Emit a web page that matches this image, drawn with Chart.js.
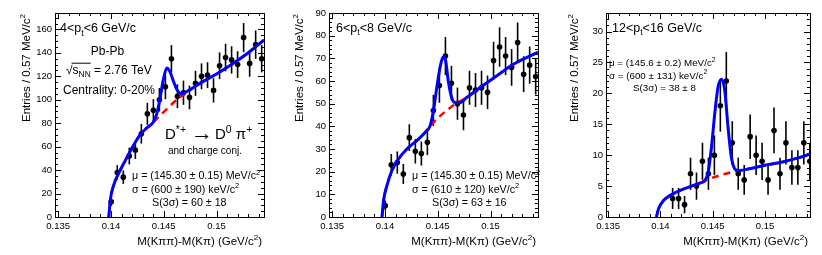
<!DOCTYPE html>
<html>
<head>
<meta charset="utf-8">
<script src="https://cdn.jsdelivr.net/npm/chart.js@4/dist/chart.umd.min.js"></script>
<style>
  html, body { margin: 0; padding: 0; background: #fff; }
  #wrap { position: relative; width: 822px; height: 255px; }
  #wrap canvas { position: absolute; left: 0; top: 0; }
</style>
</head>
<body>
<div id="wrap">
  <canvas id="c1" width="822" height="255"></canvas>
  <canvas id="c2" width="822" height="255"></canvas>
  <canvas id="c3" width="822" height="255"></canvas>
</div>
<script>
// bin centres of M(Kpipi)-M(Kpi), 0.57 MeV wide
const binCenters = [0.14003, 0.14060, 0.14117, 0.14174, 0.14231, 0.14288, 0.14345, 0.14402, 0.14459, 0.14516,
                    0.14573, 0.14630, 0.14687, 0.14744, 0.14801, 0.14858, 0.14915, 0.14972, 0.15029, 0.15086,
                    0.15143, 0.15200, 0.15257, 0.15314, 0.15371, 0.15428];

// 4 < pt < 6
const pt4Counts = [13, 38, 34, 52, 57, 71, 88, 91, 100, 111, 135, 103, 106, 102, 114, 120, 121, 108, 129, 136, 134, 130, 153, 131, 147, 135];
const pt4Errors = [3.6, 6.2, 5.8, 7.2, 7.5, 8.4, 9.4, 9.5, 10, 10.5, 11.6, 10.1, 10.3, 10.1, 10.7, 11, 11, 10.4, 11.4, 11.7, 11.6, 11.4, 12.4, 11.4, 12.1, 11.6];
const pt4FitX = [0.13980, 0.13993, 0.14025, 0.14072, 0.14135, 0.14213, 0.14276, 0.14340, 0.14402, 0.14434, 0.14465, 0.14496, 0.14529, 0.14559, 0.14591, 0.14623, 0.14670, 0.14717, 0.14842, 0.15000, 0.15157, 0.15314, 0.15450];
const pt4FitY = [0, 14, 27, 37, 48, 61, 70, 76, 81, 88, 101, 117, 127, 124, 116, 109, 105, 107, 114, 122, 131, 141, 151];
const pt4BkgX = [0.13980, 0.13993, 0.14025, 0.14072, 0.14135, 0.14213, 0.14276, 0.14340, 0.14402, 0.14650, 0.14717, 0.14842, 0.15000, 0.15157, 0.15314, 0.15450];
const pt4BkgY = [0, 14, 27, 37, 48, 61, 70, 76, 81, 102, 106, 114, 122, 131, 141, 151];

// 6 < pt < 8
const pt6Counts = [5, 23, 24, 19, 35, 29, 28, 33, 47, 58, 71, 59, 50, 45, 57, 56, 57, 55, 69, 75, 71, 66, 77, 63, 67, 62];
const pt6Errors = [2.2, 4.8, 4.9, 4.4, 5.9, 5.4, 5.3, 5.7, 6.9, 7.6, 8.4, 7.7, 7.1, 6.7, 7.5, 7.5, 7.5, 7.4, 8.3, 8.7, 8.4, 8.1, 8.8, 7.9, 8.2, 7.9];
const pt6FitX = [0.13972, 0.13987, 0.14019, 0.14066, 0.14128, 0.14208, 0.14302, 0.14380, 0.14427, 0.14459, 0.14491, 0.14522, 0.14553, 0.14575, 0.14600, 0.14632, 0.14663, 0.14710, 0.14774, 0.14899, 0.15057, 0.15213, 0.15450];
const pt6FitY = [0, 7.3, 13.9, 20.5, 25.6, 30, 33.7, 37.3, 40.2, 46.8, 57, 66, 70.5, 69, 60, 52.7, 50.5, 50.5, 52.7, 57, 62.2, 67.3, 72.7];
const pt6BkgX = [0.13972, 0.13987, 0.14019, 0.14066, 0.14128, 0.14208, 0.14302, 0.14380, 0.14427, 0.14680, 0.14774, 0.14899, 0.15057, 0.15213, 0.15450];
const pt6BkgY = [0, 7.3, 13.9, 20.5, 25.6, 30, 33.7, 37.3, 40.2, 50.3, 52.7, 57, 62.2, 67.3, 72.7];

// 12 < pt < 16 (first two bins empty)
const pt12Counts = [null, null, 3, 3, 2, 7, 5, 9, 7, 10, 18, 22, 12, 7, 6, 13, 10, 9, 6, 14, 7, 12, 8, 8, 12, 9];
const pt12Errors = [null, null, 1.7, 1.7, 1.4, 2.6, 2.2, 3, 2.6, 3.2, 4.2, 4.7, 3.5, 2.6, 2.4, 3.6, 3.2, 3, 2.4, 3.7, 2.6, 3.5, 2.8, 2.8, 3.5, 3];
const pt12FitX = [0.13962, 0.13984, 0.14032, 0.14095, 0.14189, 0.14284, 0.14378, 0.14426, 0.14457, 0.14489, 0.14520, 0.14552, 0.14584, 0.14615, 0.14646, 0.14678, 0.14710, 0.14741, 0.14851, 0.15009, 0.15167, 0.15325, 0.15430];
const pt12FitY = [0, 1.4, 2.7, 3.5, 4.3, 4.9, 5.5, 5.9, 7.3, 11.4, 16.8, 21.1, 22.3, 20.5, 14.6, 9.7, 7.8, 7.5, 7.8, 8.4, 8.9, 9.6, 10.2];
const pt12BkgX = [0.13962, 0.13984, 0.14032, 0.14095, 0.14189, 0.14284, 0.14378, 0.14426, 0.14741, 0.14851, 0.15009, 0.15167, 0.15325, 0.15430];
const pt12BkgY = [0, 1.4, 2.7, 3.5, 4.3, 4.9, 5.5, 5.9, 7.5, 7.8, 8.4, 8.9, 9.6, 10.2];

// tick labels
const xTicks = [0.135, 0.14, 0.145, 0.15];
const pt4YTicks = [0, 20, 40, 60, 80, 100, 120, 140, 160];
const pt6YTicks = [0, 10, 20, 30, 40, 50, 60, 70, 80, 90];
const pt12YTicks = [0, 5, 10, 15, 20, 25, 30];

const FONT = '"Liberation Sans", Arial, Helvetica, sans-serif';
Chart.defaults.font.family = FONT;
Chart.defaults.color = '#000';

// tiny ROOT-like text: ^{sup} and _{sub}
function parseRich(s) {
  const segs = [];
  const re = /([\^_])\{([^}]*)\}/g;
  let last = 0, m;
  while ((m = re.exec(s))) {
    if (m.index > last) segs.push({ t: s.slice(last, m.index), k: '' });
    segs.push({ t: m[2], k: m[1] });
    last = re.lastIndex;
  }
  if (last < s.length) segs.push({ t: s.slice(last), k: '' });
  return segs;
}

function drawRich(ctx, s, x, y, size, align) {
  const segs = parseRich(s);
  let w = 0;
  segs.forEach(g => {
    ctx.font = (g.k ? size * 0.7 : size) + 'px ' + FONT;
    g.w = ctx.measureText(g.t).width;
    w += g.w;
  });
  let cx = align === 'right' ? x - w : align === 'center' ? x - w / 2 : x;
  ctx.textAlign = 'left';
  ctx.textBaseline = 'alphabetic';
  segs.forEach(g => {
    ctx.font = (g.k ? size * 0.7 : size) + 'px ' + FONT;
    const dy = g.k === '^' ? -size * 0.42 : g.k === '_' ? size * 0.28 : 0;
    ctx.fillText(g.t, cx, y + dy);
    g.x = cx;
    cx += g.w;
  });
  return segs;
}

function toPoints(xs, ys) {
  const pts = [];
  xs.forEach((x, i) => { if (ys[i] !== null) pts.push({ x: x, y: ys[i] }); });
  return pts;
}

// frame, inward ticks, error bars and texts, ROOT style
function rootDeco(panel) {
  return {
    id: 'rootDeco' + panel.id,
    beforeDatasetsDraw(chart) {
      const ctx = chart.ctx, xs = chart.scales.x, ys = chart.scales.y;
      ctx.save();
      ctx.strokeStyle = '#000';
      ctx.lineWidth = 1.6;
      panel.counts.forEach((c, i) => {
        if (c === null) return;
        const px = xs.getPixelForValue(binCenters[i]);
        const y1 = Math.max(ys.getPixelForValue(c + panel.errors[i]), chart.chartArea.top);
        const y2 = Math.min(ys.getPixelForValue(c - panel.errors[i]), chart.chartArea.bottom);
        ctx.beginPath();
        ctx.moveTo(px, y1);
        ctx.lineTo(px, y2);
        ctx.stroke();
      });
      ctx.restore();
    },
    afterDraw(chart) {
      const ctx = chart.ctx, xs = chart.scales.x, ys = chart.scales.y;
      const a = chart.chartArea;
      ctx.save();
      ctx.strokeStyle = '#000';
      ctx.lineWidth = 1;
      ctx.strokeRect(Math.round(a.left) + 0.5, Math.round(a.top) + 0.5, Math.round(a.right - a.left), Math.round(a.bottom - a.top));

      ctx.beginPath();
      // x ticks, bottom and top
      for (let i = Math.ceil(xs.min / 0.001 - 1e-6); i * 0.001 <= xs.max + 1e-9; i++) {
        const v = i * 0.001;
        const major = xTicks.some(t => Math.abs(t - v) < 1e-7);
        const len = major ? 6 : 3;
        const px = Math.round(xs.getPixelForValue(v)) + 0.5;
        ctx.moveTo(px, a.bottom); ctx.lineTo(px, a.bottom - len);
        ctx.moveTo(px, a.top); ctx.lineTo(px, a.top + len);
      }
      // y ticks, left and right
      for (let i = 0; i * panel.minorY <= ys.max + 1e-9; i++) {
        const v = i * panel.minorY;
        const major = panel.yTicks.some(t => Math.abs(t - v) < 1e-7);
        const len = major ? 6 : 3;
        const py = Math.round(ys.getPixelForValue(v)) + 0.5;
        ctx.moveTo(a.left, py); ctx.lineTo(a.left + len, py);
        ctx.moveTo(a.right, py); ctx.lineTo(a.right - len, py);
      }
      ctx.stroke();

      ctx.fillStyle = '#000';
      // axis titles
      drawRich(ctx, 'M(K\u03C0\u03C0)-M(K\u03C0) (GeV/c^{2})', a.right - 2, 245, 11.5, 'right');
      ctx.save();
      ctx.translate(panel.yTitleX, 14);
      ctx.rotate(-Math.PI / 2);
      drawRich(ctx, 'Entries / 0.57 MeV/c^{2}', 0, 0, 11.5, 'right');
      ctx.restore();

      panel.texts.forEach(t => {
        const segs = drawRich(ctx, t.s, t.x, t.y, t.size, t.align || 'left');
        if (t.sqrt) {
          // overline of the square root
          ctx.font = t.size + 'px ' + FONT;
          const x0 = segs[0].x + ctx.measureText('\u221A').width - 1;
          const x1 = segs[1].x + segs[1].w;
          ctx.lineWidth = 1;
          ctx.beginPath();
          ctx.moveTo(x0, t.y - t.size * 0.9);
          ctx.lineTo(x1, t.y - t.size * 0.9);
          ctx.stroke();
        }
      });
      ctx.restore();
    }
  };
}

function makePanel(panel) {
  const tickFont = { size: 9.5, family: FONT };
  return new Chart(document.getElementById(panel.canvas), {
    type: 'scatter',
    data: {
      datasets: [
        {
          data: toPoints(binCenters, panel.counts),
          pointRadius: 2.8, pointBackgroundColor: '#000', pointBorderWidth: 0,
          showLine: false, order: 3
        },
        {
          data: toPoints(panel.bkgX, panel.bkgY),
          showLine: true, borderColor: '#ff0000', borderWidth: 2.5, borderDash: [7, 5],
          pointRadius: 0, cubicInterpolationMode: 'monotone', order: 2
        },
        {
          data: toPoints(panel.fitX, panel.fitY),
          showLine: true, borderColor: '#0000ff', borderWidth: 3,
          pointRadius: 0, cubicInterpolationMode: 'monotone', order: 1
        }
      ]
    },
    options: {
      responsive: false,
      animation: false,
      events: [],
      layout: { padding: { left: panel.left - 40, right: 822 - panel.right, top: 13, bottom: 0 } },
      plugins: { legend: { display: false }, tooltip: { enabled: false } },
      scales: {
        x: {
          type: 'linear', min: panel.xMin, max: panel.xMax,
          afterFit: s => { s.height = 38; },
          afterBuildTicks: s => { s.ticks = xTicks.map(v => ({ value: v })); },
          grid: { display: false, drawTicks: false },
          border: { display: false },
          ticks: { font: tickFont, color: '#000', padding: 4, maxRotation: 0, autoSkip: false, callback: v => String(v) }
        },
        y: {
          type: 'linear', min: 0, max: panel.yMax,
          afterFit: s => { s.width = 40; },
          afterBuildTicks: s => { s.ticks = panel.yTicks.map(v => ({ value: v })); },
          grid: { display: false, drawTicks: false },
          border: { display: false },
          ticks: { font: tickFont, color: '#000', padding: 3, autoSkip: false, callback: v => String(v) }
        }
      }
    },
    plugins: [rootDeco(panel)]
  });
}

makePanel({
  id: 1, canvas: 'c1', left: 55, right: 264, xMin: 0.1347, xMax: 0.1545,
  yMax: 174, yTicks: pt4YTicks, minorY: 5, yTitleX: 30,
  counts: pt4Counts, errors: pt4Errors,
  fitX: pt4FitX, fitY: pt4FitY, bkgX: pt4BkgX, bkgY: pt4BkgY,
  texts: [
    { s: '4<p_{t}<6 GeV/c', x: 60, y: 32, size: 12.5 },
    { s: 'Pb-Pb', x: 107.5, y: 55, size: 12, align: 'center' },
    { s: '\u221As_{NN} = 2.76 TeV', x: 66, y: 74, size: 12, sqrt: true },
    { s: 'Centrality: 0-20%', x: 63, y: 93.5, size: 12 },
    { s: 'D^{*+}', x: 165, y: 139, size: 15 },
    { s: '\u2192', x: 191, y: 140, size: 22 },
    { s: 'D^{0} \u03C0^{+}', x: 215, y: 139, size: 15 },
    { s: 'and charge conj.', x: 168, y: 154, size: 10 },
    { s: '\u03BC = (145.30 \u00B1 0.15) MeV/c^{2}', x: 132, y: 179, size: 10.7 },
    { s: '\u03C3 = (600 \u00B1 190) keV/c^{2}', x: 132, y: 192.5, size: 10.7 },
    { s: 'S(3\u03C3) = 60 \u00B1 18', x: 152, y: 205.5, size: 10.7 }
  ]
});

makePanel({
  id: 2, canvas: 'c2', left: 329, right: 538, xMin: 0.1347, xMax: 0.1545,
  yMax: 90, yTicks: pt6YTicks, minorY: 2, yTitleX: 303,
  counts: pt6Counts, errors: pt6Errors,
  fitX: pt6FitX, fitY: pt6FitY, bkgX: pt6BkgX, bkgY: pt6BkgY,
  texts: [
    { s: '6<p_{t}<8 GeV/c', x: 336, y: 31.5, size: 12.5 },
    { s: '\u03BC = (145.30 \u00B1 0.15) MeV/c^{2}', x: 412, y: 179, size: 10.7 },
    { s: '\u03C3 = (610 \u00B1 120) keV/c^{2}', x: 412, y: 192.5, size: 10.7 },
    { s: 'S(3\u03C3) = 63 \u00B1 16', x: 432, y: 205.5, size: 10.7 }
  ]
});

makePanel({
  id: 3, canvas: 'c3', left: 606, right: 810, xMin: 0.1348, xMax: 0.1543,
  yMax: 33, yTicks: pt12YTicks, minorY: 1, yTitleX: 578,
  counts: pt12Counts, errors: pt12Errors,
  fitX: pt12FitX, fitY: pt12FitY, bkgX: pt12BkgX, bkgY: pt12BkgY,
  texts: [
    { s: '12<p_{t}<16 GeV/c', x: 612, y: 31.5, size: 12.5 },
    { s: '\u03BC = (145.6 \u00B1 0.2) MeV/c^{2}', x: 609, y: 66, size: 9.8 },
    { s: '\u03C3 = (600 \u00B1 131) keV/c^{2}', x: 609, y: 78.5, size: 9.8 },
    { s: 'S(3\u03C3) = 38 \u00B1 8', x: 633, y: 90.5, size: 9.8 }
  ]
});
</script>
</body>
</html>
